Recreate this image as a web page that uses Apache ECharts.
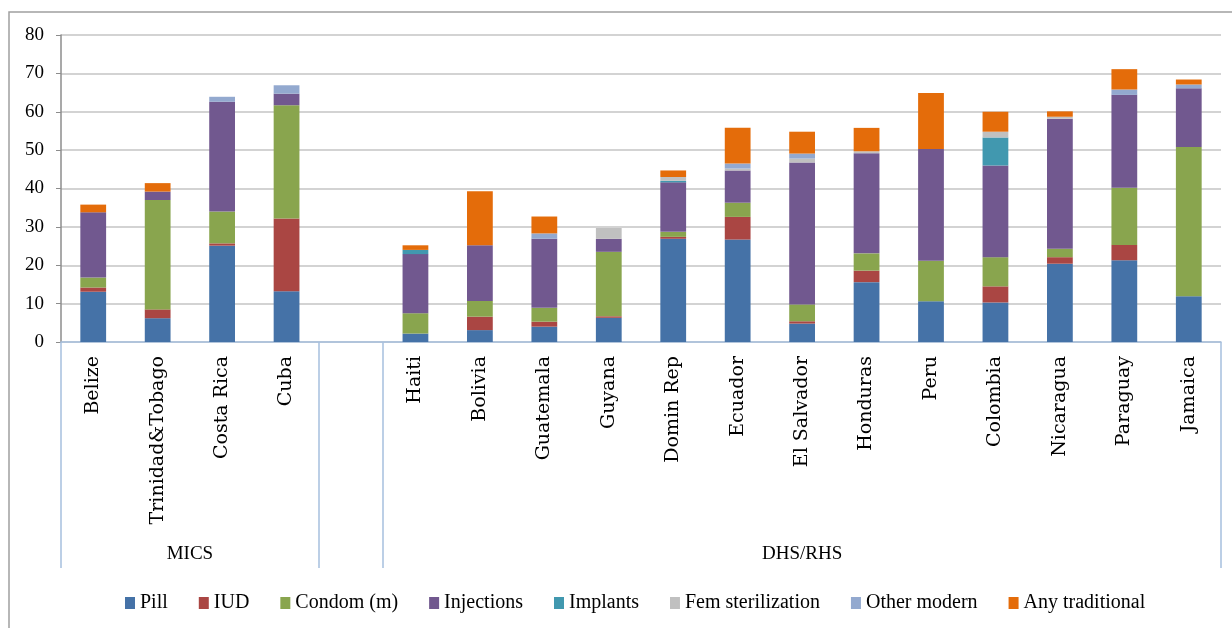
<!doctype html>
<html>
    <head>
        <meta charset="utf-8">
        <title>Contraceptive method mix</title>
        <style>
            html, body { margin: 0; padding: 0; background: #fff; }
            #main { width: 1232px; height: 628px; }
        </style>
    </head>
    <body>
        <div id="main"></div>
        <script src="https://cdn.jsdelivr.net/npm/echarts@6/dist/echarts.min.js"></script>
        <script>
            // countries (empty slot separates the two survey groups)
            var categories = ['Belize', 'Trinidad&Tobago', 'Costa Rica', 'Cuba', '',
                'Haiti', 'Bolivia', 'Guatemala', 'Guyana', 'Domin Rep', 'Ecuador', 'El Salvador',
                'Honduras', 'Peru', 'Colombia', 'Nicaragua', 'Paraguay', 'Jamaica'];

            var groupNames = ['MICS', 'DHS/RHS'];
            var groupBounds = [0, 4, 5, 18];
            var groupCenters = [2, 11.5];

            var pill        = [13.1, 6.2, 25.1, 13.2, null, 2.2, 3.1, 4.0, 6.3, 26.9, 26.7, 4.8, 15.6, 10.6, 10.3, 20.4, 21.3, 11.9];
            var iud         = [1.1, 2.3, 0.6, 19.0, null, 0, 3.5, 1.3, 0.4, 0.5, 5.9, 0.6, 3.0, 0, 4.2, 1.7, 4.0, 0];
            var condom      = [2.6, 28.5, 8.3, 29.5, null, 5.3, 4.1, 3.6, 16.8, 1.3, 3.7, 4.4, 4.5, 10.6, 7.6, 2.2, 14.9, 38.9];
            var injections  = [17.0, 2.2, 28.6, 3.0, null, 15.4, 14.5, 18.0, 3.4, 12.9, 8.4, 37.0, 26.1, 29.1, 23.9, 33.9, 24.2, 15.3];
            var implants    = [0, 0, 0, 0, null, 1.1, 0, 0, 0, 0.4, 0, 0, 0, 0, 7.3, 0, 0, 0];
            var femSter     = [0, 0, 0, 0, null, 0, 0, 0, 2.8, 1.0, 0.5, 1.0, 0.5, 0, 1.5, 0.5, 0, 0];
            var otherModern = [0, 0, 1.3, 2.2, null, 0, 0, 1.4, 0, 0, 1.3, 1.3, 0, 0, 0, 0, 1.4, 1.0];
            var traditional = [2.0, 2.2, 0, 0, null, 1.2, 14.1, 4.4, 0, 1.7, 9.3, 5.7, 6.1, 14.6, 5.2, 1.4, 5.3, 1.3];

            var seriesDefs = [
                ['Pill', pill, '#4572a7'],
                ['IUD', iud, '#aa4643'],
                ['Condom (m)', condom, '#89a54e'],
                ['Injections', injections, '#71588f'],
                ['Implants', implants, '#4198af'],
                ['Fem sterilization', femSter, '#c0c0c0'],
                ['Other modern', otherModern, '#93a9cf'],
                ['Any traditional', traditional, '#e46c0a']
            ];

            var serif = '"Liberation Serif", "DejaVu Serif", serif';
            var axisBlue = '#a7c0de';

            var chart = echarts.init(document.getElementById('main'));

            chart.setOption({
                animation: false,
                backgroundColor: '#fff',
                color: seriesDefs.map(function (d) { return d[2]; }),
                graphic: [{
                    type: 'rect',
                    shape: { x: 9, y: 12, width: 1300, height: 700 },
                    style: { fill: 'none', stroke: '#a0a0a0', lineWidth: 1.5 },
                    silent: true
                }],
                grid: {
                    left: 61,
                    right: 11,
                    top: 35,
                    bottom: 286
                },
                legend: {
                    bottom: 10,
                    left: 120,
                    itemWidth: 10,
                    itemHeight: 12,
                    itemGap: 31,
                    icon: 'rect',
                    textStyle: { fontFamily: serif, fontSize: 20, color: '#000' }
                },
                xAxis: [{
                    type: 'category',
                    data: categories,
                    axisLine: { lineStyle: { color: axisBlue, width: 1.5 } },
                    axisTick: { show: false },
                    axisLabel: {
                        rotate: 90,
                        interval: 0,
                        margin: 14,
                        fontFamily: '"DejaVu Serif", serif',
                        fontSize: 19,
                        color: '#000'
                    }
                }, {
                    type: 'value',
                    min: 0,
                    max: 18,
                    position: 'bottom',
                    axisLine: { show: false },
                    splitLine: { show: false },
                    axisTick: {
                        show: true,
                        customValues: groupBounds,
                        length: 226,
                        lineStyle: { color: axisBlue, width: 1.5 }
                    },
                    axisLabel: {
                        customValues: groupCenters,
                        margin: 203,
                        fontFamily: serif,
                        fontSize: 19,
                        color: '#000',
                        formatter: function (v) {
                            return groupNames[groupCenters.indexOf(v)] || '';
                        }
                    }
                }],
                yAxis: {
                    type: 'value',
                    min: 0,
                    max: 80,
                    interval: 10,
                    axisLine: { show: true, lineStyle: { color: '#8c8c8c', width: 1.5 } },
                    axisTick: { show: true, length: 5, lineStyle: { color: '#8c8c8c' } },
                    splitLine: { lineStyle: { color: '#c4c4c4', width: 1.5 } },
                    axisLabel: {
                        margin: 17,
                        fontFamily: serif,
                        fontSize: 19,
                        color: '#000'
                    }
                },
                series: seriesDefs.map(function (d) {
                    return {
                        name: d[0],
                        type: 'bar',
                        stack: 'mix',
                        barWidth: '40%',
                        data: d[1],
                        itemStyle: { color: d[2] }
                    };
                })
            });

            window.onresize = chart.resize;
        </script>
    </body>
</html>
